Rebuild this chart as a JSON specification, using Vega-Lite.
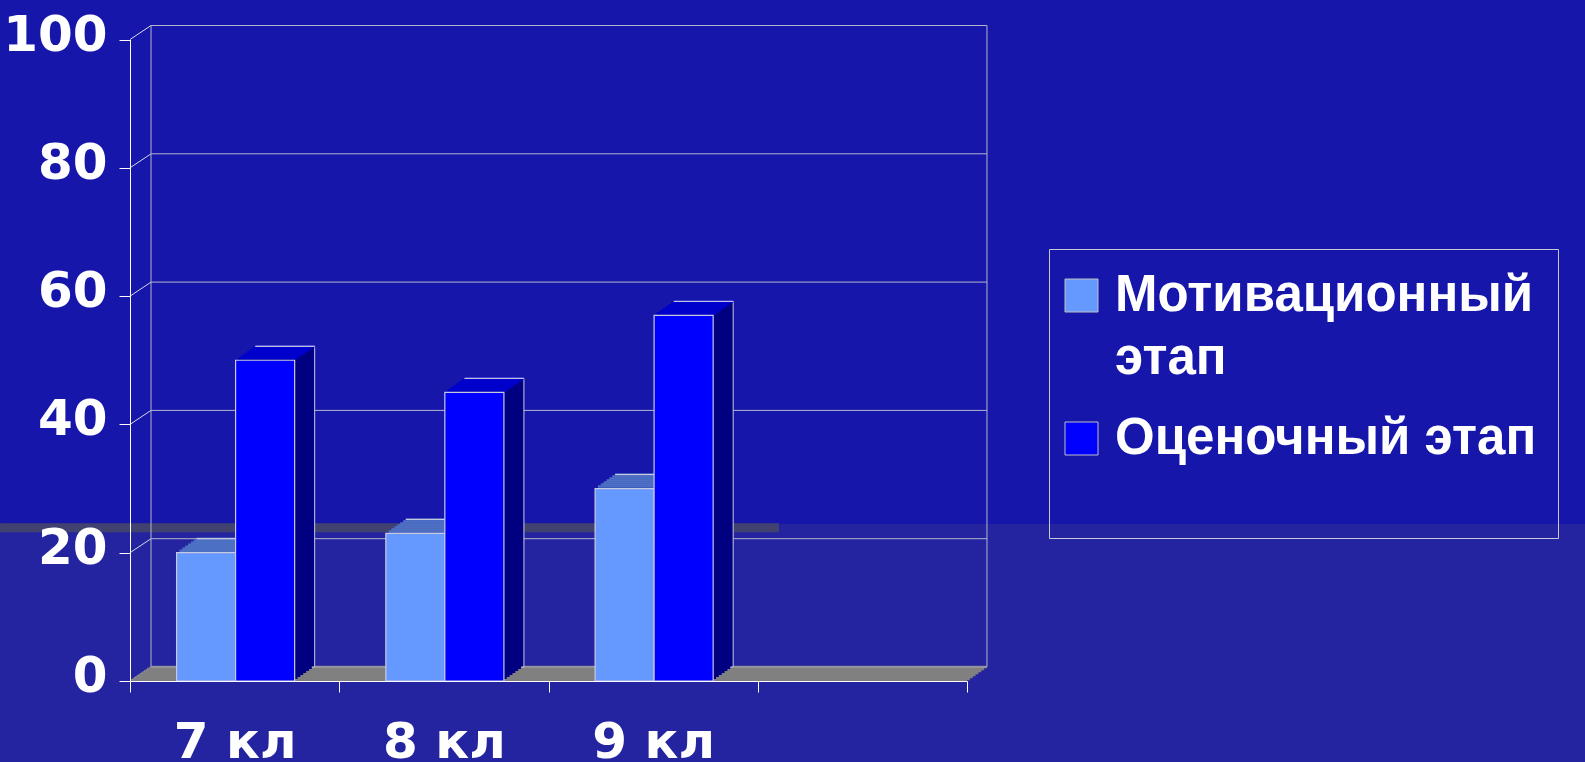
{
 "$schema": "https://vega.github.io/schema/vega-lite/v6.json",
 "width": 1585, "height": 762,
 "autosize": {"type": "none"},
 "padding": 0,
 "background": "#2424a0",
 "view": {"stroke": null},
 "data": {"values": [
  {"grade": "7 кл", "series": "Мотивационный этап", "value": 20},
  {"grade": "7 кл", "series": "Оценочный этап", "value": 50},
  {"grade": "8 кл", "series": "Мотивационный этап", "value": 23},
  {"grade": "8 кл", "series": "Оценочный этап", "value": 45},
  {"grade": "9 кл", "series": "Мотивационный этап", "value": 30},
  {"grade": "9 кл", "series": "Оценочный этап", "value": 57}
 ]},
 "layer": [
  {"data": {"values": [{}]},
   "mark": {"type": "rect", "fill": {"gradient": "linear", "x1": 0, "y1": 0, "x2": 0, "y2": 1, "stops": [{"offset": 0, "color": "#1616aa"}, {"offset": 0.687, "color": "#1616aa"}, {"offset": 0.6875, "color": "#2424a0"}, {"offset": 1, "color": "#2424a0"}]}},
   "encoding": {}},
  {"data": {"values": [{}]},
   "mark": {"type": "rule", "color": "#424270", "strokeWidth": 9, "xOffset": -234.6, "x2Offset": -83.4},
   "encoding": {"x": {"datum": "7 кл", "title": null}, "x2": {"datum": " "}, "y": {"datum": 23.9, "title": null}}},
  {"data": {"values": [{"t": 0}, {"t": 20}, {"t": 40}, {"t": 60}, {"t": 80}, {"t": 100}]},
   "mark": {"type": "rule", "color": "#b4b4cc", "strokeWidth": 1, "xOffset": -83.6, "x2Offset": 124.6, "yOffset": -14},
   "encoding": {"x": {"datum": "7 кл", "title": null}, "x2": {"datum": " "}, "y": {"field": "t", "type": "quantitative", "title": null}}},
  {"data": {"values": [{"t": 0}, {"t": 20}, {"t": 40}, {"t": 60}, {"t": 80}, {"t": 100}]},
   "mark": {"type": "rule", "color": "#d8d8e8", "strokeWidth": 1, "xOffset": -104.6, "x2Offset": -83.6, "y2Offset": -14},
   "encoding": {"x": {"datum": "7 кл", "title": null}, "x2": {"datum": "7 кл"}, "y": {"field": "t", "type": "quantitative", "title": null}, "y2": {"field": "t"}}},
  {"data": {"values": [{}]},
   "mark": {"type": "rule", "color": "#b4b4cc", "strokeWidth": 1, "xOffset": -83.6, "yOffset": -14, "y2Offset": -14},
   "encoding": {"x": {"datum": "7 кл", "title": null}, "y": {"datum": 0, "title": null}, "y2": {"datum": 100}}},
  {"data": {"values": [{}]},
   "mark": {"type": "rule", "color": "#b4b4cc", "strokeWidth": 1, "xOffset": 124.6, "yOffset": -14, "y2Offset": -14},
   "encoding": {"x": {"datum": " ", "title": null}, "y": {"datum": 0, "title": null}, "y2": {"datum": 100}}},

  {"data": {"values": [{}]}, "mark": {"type": "rule", "color": "#808080", "strokeWidth": 2.6, "xOffset": -84.6, "x2Offset": 124.6, "yOffset": -14}, "encoding": {"x": {"datum": "7 кл", "title": null}, "x2": {"datum": " "}, "y": {"datum": 0, "title": null}}},
  {"data": {"values": [{}]}, "mark": {"type": "rule", "color": "#808080", "strokeWidth": 2.6, "xOffset": -87.457, "x2Offset": 121.743, "yOffset": -12}, "encoding": {"x": {"datum": "7 кл", "title": null}, "x2": {"datum": " "}, "y": {"datum": 0, "title": null}}},
  {"data": {"values": [{}]}, "mark": {"type": "rule", "color": "#808080", "strokeWidth": 2.6, "xOffset": -90.314, "x2Offset": 118.886, "yOffset": -10}, "encoding": {"x": {"datum": "7 кл", "title": null}, "x2": {"datum": " "}, "y": {"datum": 0, "title": null}}},
  {"data": {"values": [{}]}, "mark": {"type": "rule", "color": "#808080", "strokeWidth": 2.6, "xOffset": -93.171, "x2Offset": 116.029, "yOffset": -8}, "encoding": {"x": {"datum": "7 кл", "title": null}, "x2": {"datum": " "}, "y": {"datum": 0, "title": null}}},
  {"data": {"values": [{}]}, "mark": {"type": "rule", "color": "#808080", "strokeWidth": 2.6, "xOffset": -96.029, "x2Offset": 113.171, "yOffset": -6}, "encoding": {"x": {"datum": "7 кл", "title": null}, "x2": {"datum": " "}, "y": {"datum": 0, "title": null}}},
  {"data": {"values": [{}]}, "mark": {"type": "rule", "color": "#808080", "strokeWidth": 2.6, "xOffset": -98.886, "x2Offset": 110.314, "yOffset": -4}, "encoding": {"x": {"datum": "7 кл", "title": null}, "x2": {"datum": " "}, "y": {"datum": 0, "title": null}}},
  {"data": {"values": [{}]}, "mark": {"type": "rule", "color": "#808080", "strokeWidth": 2.6, "xOffset": -101.743, "x2Offset": 107.457, "yOffset": -2}, "encoding": {"x": {"datum": "7 кл", "title": null}, "x2": {"datum": " "}, "y": {"datum": 0, "title": null}}},
  {"data": {"values": [{}]}, "mark": {"type": "rule", "color": "#808080", "strokeWidth": 1.6, "xOffset": -104.6, "x2Offset": 104.6, "yOffset": -0.8}, "encoding": {"x": {"datum": "7 кл", "title": null}, "x2": {"datum": " "}, "y": {"datum": 0, "title": null}}},
  {"data": {"values": [{}]}, "mark": {"type": "rule", "color": "#a8a8b8", "strokeWidth": 1, "xOffset": -83.6, "x2Offset": 124.6, "yOffset": -14}, "encoding": {"x": {"datum": "7 кл", "title": null}, "x2": {"datum": " "}, "y": {"datum": 0, "title": null}}},

  {"transform": [{"filter": "datum.series === 'Мотивационный этап'"}], "mark": {"type": "bar", "width": {"band": 0.2823}, "xOffset": -8.5, "yOffset": -14, "y2Offset": -14, "fill": "#4d70c4", "stroke": "#4d70c4", "strokeWidth": 2.6}, "encoding": {"x": {"field": "grade", "type": "nominal", "title": null}, "y": {"field": "value", "type": "quantitative", "title": null}, "y2": {"field": "value"}}},
  {"transform": [{"filter": "datum.series === 'Мотивационный этап'"}], "mark": {"type": "bar", "width": {"band": 0.2823}, "xOffset": -11.357, "yOffset": -12, "y2Offset": -12, "fill": "#4d70c4", "stroke": "#4d70c4", "strokeWidth": 2.6}, "encoding": {"x": {"field": "grade", "type": "nominal", "title": null}, "y": {"field": "value", "type": "quantitative", "title": null}, "y2": {"field": "value"}}},
  {"transform": [{"filter": "datum.series === 'Мотивационный этап'"}], "mark": {"type": "bar", "width": {"band": 0.2823}, "xOffset": -14.214, "yOffset": -10, "y2Offset": -10, "fill": "#4d70c4", "stroke": "#4d70c4", "strokeWidth": 2.6}, "encoding": {"x": {"field": "grade", "type": "nominal", "title": null}, "y": {"field": "value", "type": "quantitative", "title": null}, "y2": {"field": "value"}}},
  {"transform": [{"filter": "datum.series === 'Мотивационный этап'"}], "mark": {"type": "bar", "width": {"band": 0.2823}, "xOffset": -17.071, "yOffset": -8, "y2Offset": -8, "fill": "#4d70c4", "stroke": "#4d70c4", "strokeWidth": 2.6}, "encoding": {"x": {"field": "grade", "type": "nominal", "title": null}, "y": {"field": "value", "type": "quantitative", "title": null}, "y2": {"field": "value"}}},
  {"transform": [{"filter": "datum.series === 'Мотивационный этап'"}], "mark": {"type": "bar", "width": {"band": 0.2823}, "xOffset": -19.929, "yOffset": -6, "y2Offset": -6, "fill": "#4d70c4", "stroke": "#4d70c4", "strokeWidth": 2.6}, "encoding": {"x": {"field": "grade", "type": "nominal", "title": null}, "y": {"field": "value", "type": "quantitative", "title": null}, "y2": {"field": "value"}}},
  {"transform": [{"filter": "datum.series === 'Мотивационный этап'"}], "mark": {"type": "bar", "width": {"band": 0.2823}, "xOffset": -22.786, "yOffset": -4, "y2Offset": -4, "fill": "#4d70c4", "stroke": "#4d70c4", "strokeWidth": 2.6}, "encoding": {"x": {"field": "grade", "type": "nominal", "title": null}, "y": {"field": "value", "type": "quantitative", "title": null}, "y2": {"field": "value"}}},
  {"transform": [{"filter": "datum.series === 'Мотивационный этап'"}], "mark": {"type": "bar", "width": {"band": 0.2823}, "xOffset": -25.643, "yOffset": -2, "y2Offset": -2, "fill": "#4d70c4", "stroke": "#4d70c4", "strokeWidth": 2.6}, "encoding": {"x": {"field": "grade", "type": "nominal", "title": null}, "y": {"field": "value", "type": "quantitative", "title": null}, "y2": {"field": "value"}}},
  {"transform": [{"filter": "datum.series === 'Мотивационный этап'"}], "mark": {"type": "bar", "width": {"band": 0.2823}, "xOffset": -8.5, "yOffset": -14, "y2Offset": -14, "fill": "#c8c8e0", "stroke": "#c8c8e0", "strokeWidth": 1}, "encoding": {"x": {"field": "grade", "type": "nominal", "title": null}, "y": {"field": "value", "type": "quantitative", "title": null}, "y2": {"field": "value"}}},

  {"transform": [{"filter": "datum.series === 'Оценочный этап'"}], "mark": {"type": "bar", "width": {"band": 0.2823}, "xOffset": 50.5, "yOffset": -14, "y2Offset": -14, "fill": "#000080", "stroke": "#c8c8e0", "strokeWidth": 1}, "encoding": {"x": {"field": "grade", "type": "nominal", "title": null}, "y": {"field": "value", "type": "quantitative", "title": null}, "y2": {"datum": 0}}},
  {"transform": [{"filter": "datum.series === 'Оценочный этап'"}], "mark": {"type": "bar", "width": {"band": 0.2823}, "xOffset": 47.643, "yOffset": -12, "y2Offset": -12, "fill": "#000080"}, "encoding": {"x": {"field": "grade", "type": "nominal", "title": null}, "y": {"field": "value", "type": "quantitative", "title": null}, "y2": {"datum": 0}}},
  {"transform": [{"filter": "datum.series === 'Оценочный этап'"}], "mark": {"type": "bar", "width": {"band": 0.2823}, "xOffset": 44.786, "yOffset": -10, "y2Offset": -10, "fill": "#000080"}, "encoding": {"x": {"field": "grade", "type": "nominal", "title": null}, "y": {"field": "value", "type": "quantitative", "title": null}, "y2": {"datum": 0}}},
  {"transform": [{"filter": "datum.series === 'Оценочный этап'"}], "mark": {"type": "bar", "width": {"band": 0.2823}, "xOffset": 41.929, "yOffset": -8, "y2Offset": -8, "fill": "#000080"}, "encoding": {"x": {"field": "grade", "type": "nominal", "title": null}, "y": {"field": "value", "type": "quantitative", "title": null}, "y2": {"datum": 0}}},
  {"transform": [{"filter": "datum.series === 'Оценочный этап'"}], "mark": {"type": "bar", "width": {"band": 0.2823}, "xOffset": 39.071, "yOffset": -6, "y2Offset": -6, "fill": "#000080"}, "encoding": {"x": {"field": "grade", "type": "nominal", "title": null}, "y": {"field": "value", "type": "quantitative", "title": null}, "y2": {"datum": 0}}},
  {"transform": [{"filter": "datum.series === 'Оценочный этап'"}], "mark": {"type": "bar", "width": {"band": 0.2823}, "xOffset": 36.214, "yOffset": -4, "y2Offset": -4, "fill": "#000080"}, "encoding": {"x": {"field": "grade", "type": "nominal", "title": null}, "y": {"field": "value", "type": "quantitative", "title": null}, "y2": {"datum": 0}}},
  {"transform": [{"filter": "datum.series === 'Оценочный этап'"}], "mark": {"type": "bar", "width": {"band": 0.2823}, "xOffset": 33.357, "yOffset": -2, "y2Offset": -2, "fill": "#000080"}, "encoding": {"x": {"field": "grade", "type": "nominal", "title": null}, "y": {"field": "value", "type": "quantitative", "title": null}, "y2": {"datum": 0}}},

  {"transform": [{"filter": "datum.series === 'Оценочный этап'"}], "mark": {"type": "bar", "width": {"band": 0.2823}, "xOffset": 50.5, "yOffset": -14, "y2Offset": -14, "fill": "#0000cc", "stroke": "#0000cc", "strokeWidth": 2.6}, "encoding": {"x": {"field": "grade", "type": "nominal", "title": null}, "y": {"field": "value", "type": "quantitative", "title": null}, "y2": {"field": "value"}}},
  {"transform": [{"filter": "datum.series === 'Оценочный этап'"}], "mark": {"type": "bar", "width": {"band": 0.2823}, "xOffset": 47.643, "yOffset": -12, "y2Offset": -12, "fill": "#0000cc", "stroke": "#0000cc", "strokeWidth": 2.6}, "encoding": {"x": {"field": "grade", "type": "nominal", "title": null}, "y": {"field": "value", "type": "quantitative", "title": null}, "y2": {"field": "value"}}},
  {"transform": [{"filter": "datum.series === 'Оценочный этап'"}], "mark": {"type": "bar", "width": {"band": 0.2823}, "xOffset": 44.786, "yOffset": -10, "y2Offset": -10, "fill": "#0000cc", "stroke": "#0000cc", "strokeWidth": 2.6}, "encoding": {"x": {"field": "grade", "type": "nominal", "title": null}, "y": {"field": "value", "type": "quantitative", "title": null}, "y2": {"field": "value"}}},
  {"transform": [{"filter": "datum.series === 'Оценочный этап'"}], "mark": {"type": "bar", "width": {"band": 0.2823}, "xOffset": 41.929, "yOffset": -8, "y2Offset": -8, "fill": "#0000cc", "stroke": "#0000cc", "strokeWidth": 2.6}, "encoding": {"x": {"field": "grade", "type": "nominal", "title": null}, "y": {"field": "value", "type": "quantitative", "title": null}, "y2": {"field": "value"}}},
  {"transform": [{"filter": "datum.series === 'Оценочный этап'"}], "mark": {"type": "bar", "width": {"band": 0.2823}, "xOffset": 39.071, "yOffset": -6, "y2Offset": -6, "fill": "#0000cc", "stroke": "#0000cc", "strokeWidth": 2.6}, "encoding": {"x": {"field": "grade", "type": "nominal", "title": null}, "y": {"field": "value", "type": "quantitative", "title": null}, "y2": {"field": "value"}}},
  {"transform": [{"filter": "datum.series === 'Оценочный этап'"}], "mark": {"type": "bar", "width": {"band": 0.2823}, "xOffset": 36.214, "yOffset": -4, "y2Offset": -4, "fill": "#0000cc", "stroke": "#0000cc", "strokeWidth": 2.6}, "encoding": {"x": {"field": "grade", "type": "nominal", "title": null}, "y": {"field": "value", "type": "quantitative", "title": null}, "y2": {"field": "value"}}},
  {"transform": [{"filter": "datum.series === 'Оценочный этап'"}], "mark": {"type": "bar", "width": {"band": 0.2823}, "xOffset": 33.357, "yOffset": -2, "y2Offset": -2, "fill": "#0000cc", "stroke": "#0000cc", "strokeWidth": 2.6}, "encoding": {"x": {"field": "grade", "type": "nominal", "title": null}, "y": {"field": "value", "type": "quantitative", "title": null}, "y2": {"field": "value"}}},
  {"transform": [{"filter": "datum.series === 'Оценочный этап'"}], "mark": {"type": "bar", "width": {"band": 0.2823}, "xOffset": 50.5, "yOffset": -14, "y2Offset": -14, "fill": "#c8c8e0", "stroke": "#c8c8e0", "strokeWidth": 1}, "encoding": {"x": {"field": "grade", "type": "nominal", "title": null}, "y": {"field": "value", "type": "quantitative", "title": null}, "y2": {"field": "value"}}},

  {"transform": [{"filter": "datum.series === 'Мотивационный этап'"}],
   "mark": {"type": "bar", "width": {"band": 0.2823}, "xOffset": -28.5, "stroke": "#c8c8e0", "strokeWidth": 1.2},
   "encoding": {
    "x": {"field": "grade", "type": "nominal", "title": null,
          "scale": {"domain": ["7 кл", "8 кл", "9 кл", " "], "range": [130, 967], "paddingInner": 0, "paddingOuter": 0},
          "axis": {"orient": "bottom", "offset": -81, "zindex": 1, "title": null, "labelAngle": 0, "labelAlign": "center", "domainColor": "#ffffff", "tickColor": "#ffffff", "tickSize": 11, "tickBand": "extent", "labelColor": "#ffffff", "labelFont": "DejaVu Sans", "labelFontWeight": "bold", "labelFontSize": 50, "labelBaseline": "alphabetic", "labelPadding": 65, "grid": false}},
    "y": {"field": "value", "type": "quantitative", "title": null,
          "scale": {"domain": [0, 100], "range": [681, 39.5], "nice": false},
          "axis": {"orient": "left", "offset": -130, "zindex": 1, "title": null, "values": [0, 20, 40, 60, 80, 100], "domainColor": "#ffffff", "tickColor": "#ffffff", "tickSize": 11, "labelColor": "#ffffff", "labelFont": "DejaVu Sans", "labelFontWeight": "bold", "labelFontSize": 50, "labelBaseline": "alphabetic", "labelOffset": 10.5, "labelPadding": 12, "grid": false}},
    "color": {"field": "series", "type": "nominal",
          "scale": {"domain": ["Мотивационный этап", "Оценочный этап"], "range": ["#6699ff", "#0000ff"]},
          "legend": {"orient": "none", "legendX": 1049, "legendY": 249, "title": null, "strokeColor": "#c8c8d8", "padding": 21, "symbolType": "square", "symbolSize": 1089, "symbolStrokeColor": "#c0c0c0", "symbolStrokeWidth": 1, "symbolOffset": -14, "labelFont": "Liberation Sans", "labelFontWeight": "bold", "labelFontSize": 51, "labelColor": "#ffffff", "labelLimit": 1000, "labelOffset": 8, "rowPadding": 28,
                     "labelExpr": "datum.value === 'Мотивационный этап' ? ['Мотивационный', 'этап'] : [datum.label, '']",
                     "encode": {"labels": {"update": {"lineHeight": {"signal": "datum.index === 0 ? 63 : 53"}}}}}}
   }},
  {"transform": [{"filter": "datum.series === 'Оценочный этап'"}],
   "mark": {"type": "bar", "width": {"band": 0.2823}, "xOffset": 30.5, "stroke": "#c8c8e0", "strokeWidth": 1.2},
   "encoding": {
    "x": {"field": "grade", "type": "nominal", "title": null},
    "y": {"field": "value", "type": "quantitative", "title": null},
    "color": {"field": "series", "type": "nominal"}
   }}
 ]
}
